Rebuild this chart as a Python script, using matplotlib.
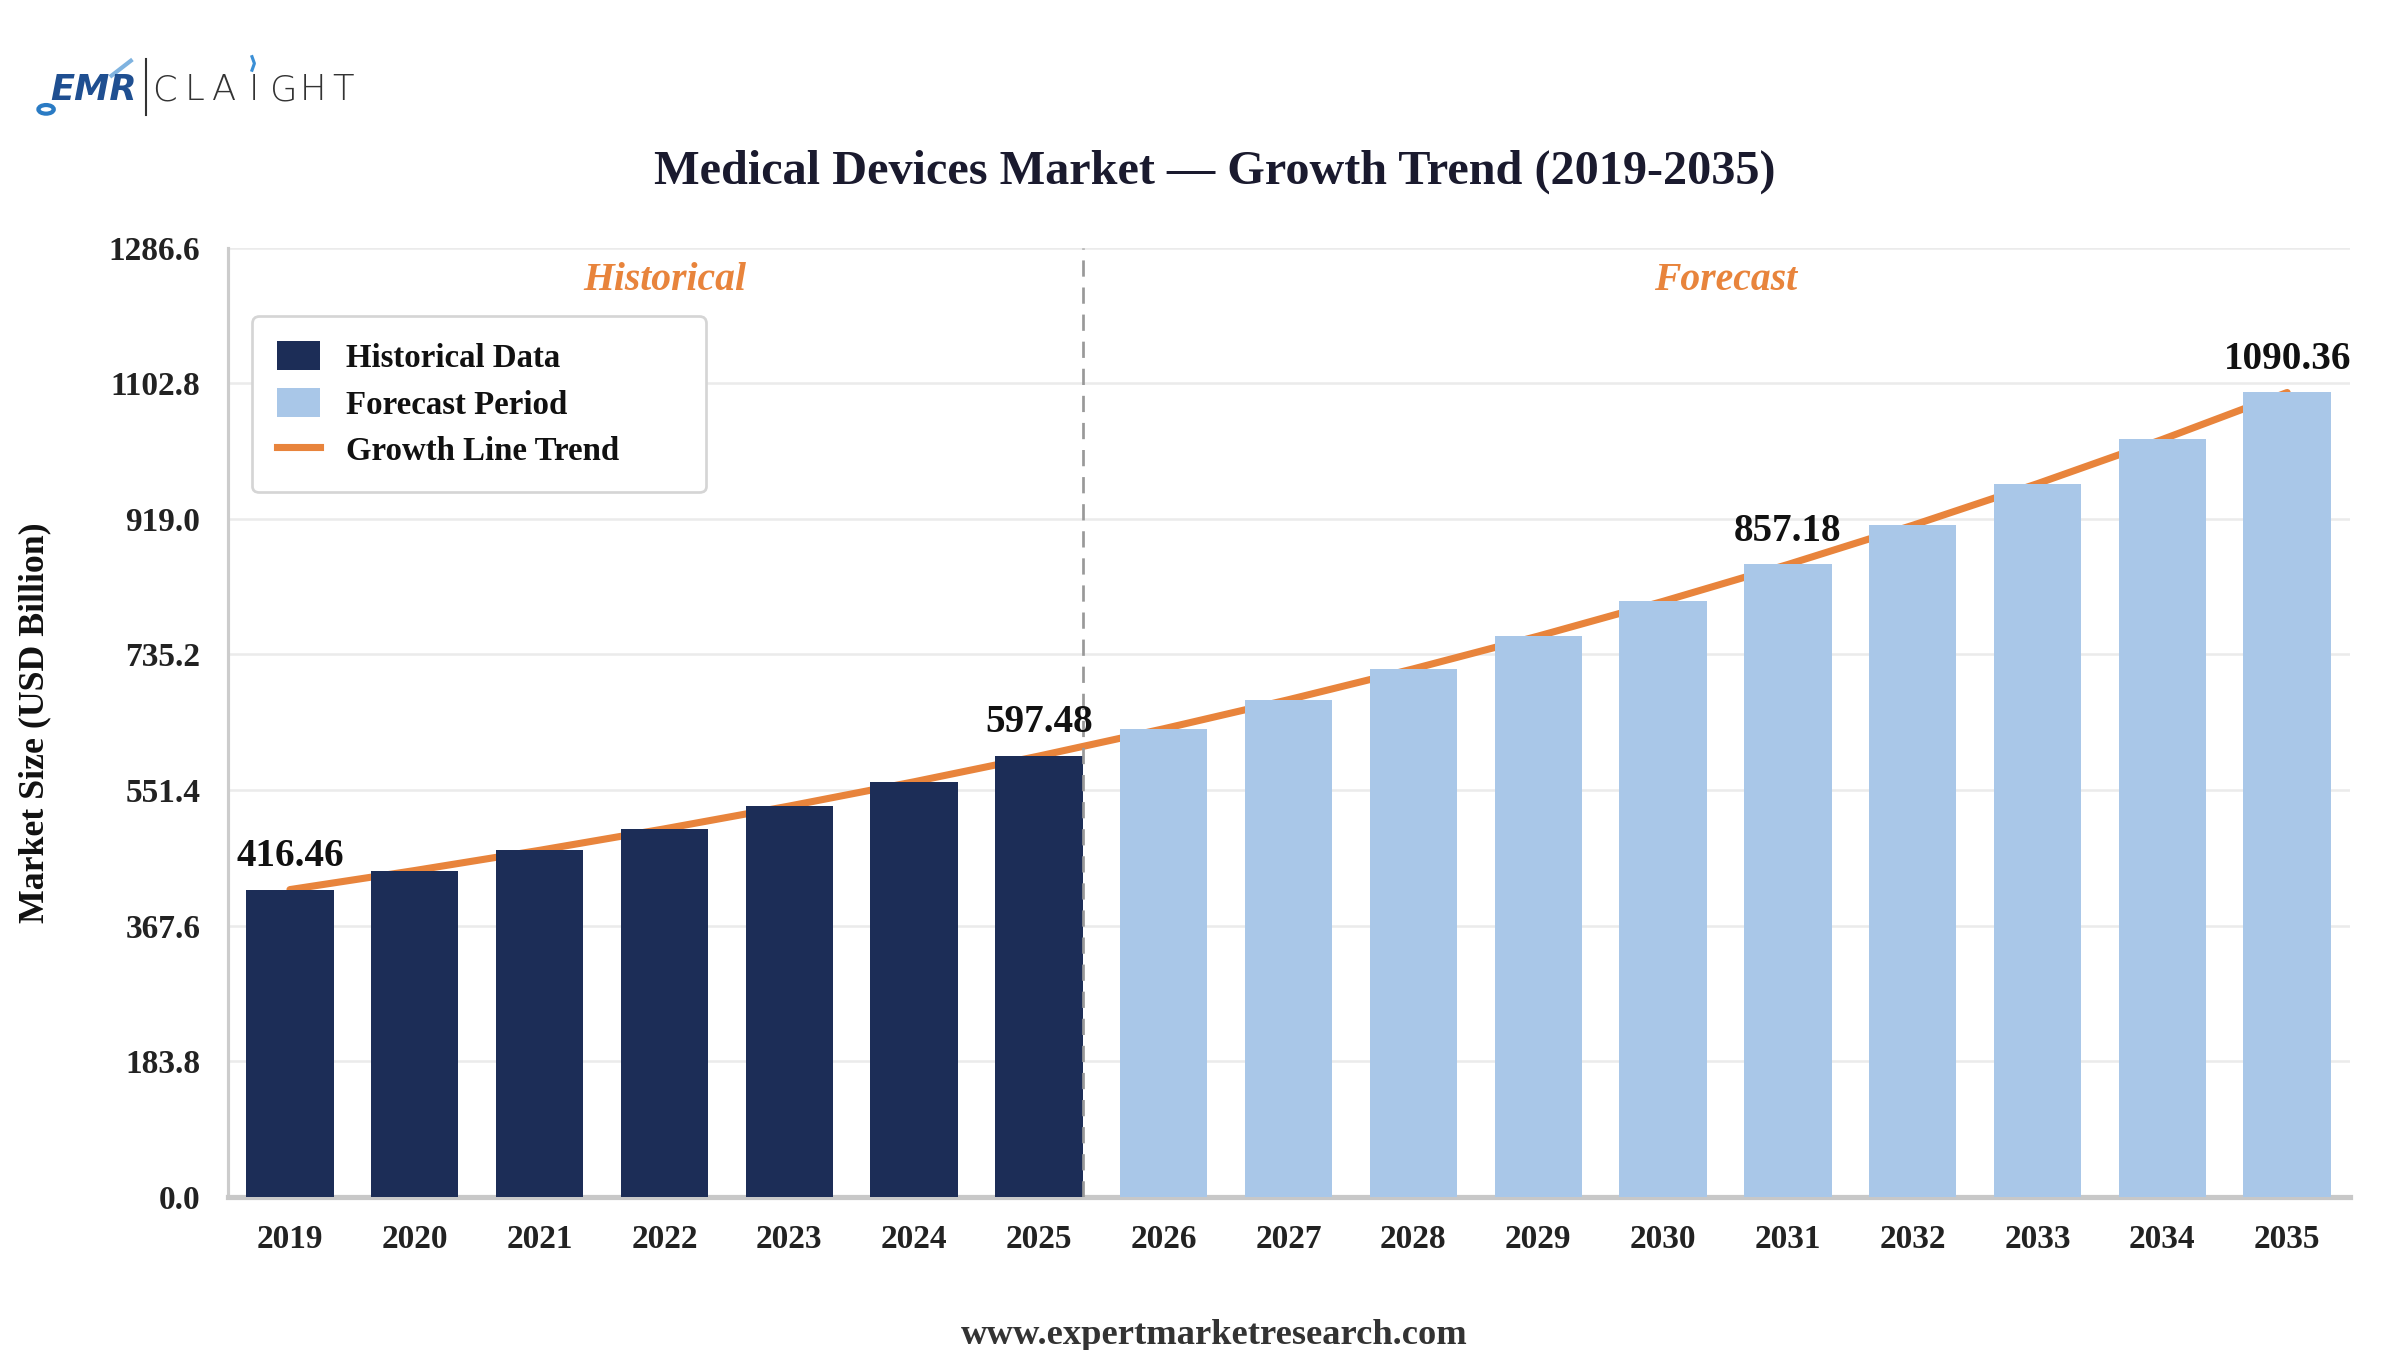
import matplotlib
matplotlib.use('Agg')
import matplotlib.pyplot as plt
from matplotlib.patches import Patch, Circle
from matplotlib.lines import Line2D

# data (USD billion)
years = ['2019', '2020', '2021', '2022', '2023', '2024', '2025', '2026', '2027',
         '2028', '2029', '2030', '2031', '2032', '2033', '2034', '2035']
hist_values = [416.46, 442.3, 469.7, 498.8, 529.7, 562.6, 597.48]
fcst_values = [634.5, 673.9, 715.7, 760.1, 807.2, 857.18, 910.3, 966.8, 1026.7, 1090.36]
labelled_years = ['2019', '2025', '2031', '2035']
y_ticks = [0.0, 183.8, 367.6, 551.4, 735.2, 919.0, 1102.8, 1286.6]

navy = '#1c2d57'
light_blue = '#a9c7e8'
orange = '#e8843c'

plt.rcParams['font.family'] = ['Liberation Serif', 'DejaVu Serif']
plt.rcParams['font.weight'] = 'bold'

fig = plt.figure(figsize=(16, 9), dpi=150)
fig.patch.set_facecolor('white')
ax = fig.add_axes([0.0948, 0.1135, 0.8842, 0.703])

all_values = hist_values + fcst_values
x = list(range(len(years)))
n_hist = len(hist_values)
bar_w = 0.7

ax.bar(x[:n_hist], hist_values, width=bar_w, color=navy, zorder=3)
ax.bar(x[n_hist:], fcst_values, width=bar_w, color=light_blue, zorder=3)
ax.plot(x, all_values, color=orange, linewidth=3.4, solid_capstyle='round', zorder=2)

# split between historical and forecast
split_x = n_hist - 1 + bar_w / 2
ax.axvline(split_x, color='#999999', linestyle=(0, (6, 4)), linewidth=1.3, zorder=4)

for yr in labelled_years:
    i = years.index(yr)
    ax.annotate(f'{all_values[i]:.2f}', (i, all_values[i]), xytext=(0, 7),
                textcoords='offset points', ha='center', va='bottom',
                fontsize=18.8, fontweight='bold', color='#111111', zorder=5)

ax.text(3.0, 1242, 'Historical', ha='center', va='center',
        fontsize=19, fontstyle='italic', fontweight='bold', color=orange)
ax.text(11.5, 1242, 'Forecast', ha='center', va='center',
        fontsize=19, fontstyle='italic', fontweight='bold', color=orange)

ax.set_xlim(-0.5, len(years) - 0.5)
ax.set_ylim(0, y_ticks[-1])
ax.set_yticks(y_ticks)
ax.set_yticklabels([f'{t:.1f}' for t in y_ticks])
ax.set_xticks(x)
ax.set_xticklabels(years)
ax.tick_params(axis='both', length=0, labelsize=16, colors='#222222')
ax.tick_params(axis='x', pad=13)
ax.tick_params(axis='y', pad=13)
ax.grid(axis='y', color='#ebebeb', linewidth=1.2, zorder=0)
ax.set_axisbelow(True)
for s in ['top', 'right']:
    ax.spines[s].set_visible(False)
ax.spines['left'].set_color('#cccccc')
ax.spines['left'].set_linewidth(1.5)
ax.spines['bottom'].set_color('#c8c8c8')
ax.spines['bottom'].set_linewidth(2.5)

ax.set_ylabel('Market Size (USD Billion)', fontsize=17.2, fontweight='bold',
              color='#111111')
ax.yaxis.set_label_coords(-0.083, 0.5)

handles = [Patch(facecolor=navy, label='Historical Data'),
           Patch(facecolor=light_blue, label='Forecast Period'),
           Line2D([0], [0], color=orange, linewidth=3.4, label='Growth Line Trend')]
leg = ax.legend(handles=handles, loc='upper left', bbox_to_anchor=(0.0117, 0.0, 0.2137, 0.928),
                mode='expand', borderaxespad=0, fontsize=15.8, handlelength=1.3,
                handleheight=1.0, handletextpad=0.8, labelspacing=0.42, borderpad=0.75,
                frameon=True, fancybox=True, edgecolor='#d5d5d5', framealpha=1)
leg.get_frame().set_linewidth(1.3)
for t in leg.get_texts():
    t.set_color('#111111')

fig.text(0.506, 0.873, 'Medical Devices Market \u2014 Growth Trend (2019-2035)',
         ha='center', va='center', fontsize=23.2, fontweight='bold', color='#1a1a2e')
fig.text(0.506, 0.011, 'www.expertmarketresearch.com', ha='center', va='center',
         fontsize=17.5, fontweight='bold', color='#333333')

# logo
fig.text(0.021, 0.933, 'EMR', ha='left', va='center', fontsize=17,
         fontweight='bold', family='DejaVu Sans', color='#1f4f91', fontstyle='italic')
fig.add_artist(Circle((0.0192, 0.919), 0.0032, transform=fig.transFigure,
                      facecolor='none', edgecolor='#2a7bc4', linewidth=2.0))
fig.add_artist(Line2D([0.0465, 0.0545], [0.944, 0.955], transform=fig.transFigure,
                      color='#7fb3e0', linewidth=2.0))
fig.add_artist(Line2D([0.0607, 0.0607], [0.915, 0.956], transform=fig.transFigure,
                      color='#333333', linewidth=1.0))
for k, ch in enumerate('CLAIGHT'):
    fig.text(0.0686 + k * 0.01237, 0.933, ch, ha='center', va='center', fontsize=17,
             fontweight='light', family='DejaVu Sans', color='#333333')
fig.add_artist(Line2D([0.1050, 0.1060, 0.1050], [0.958, 0.953, 0.948], transform=fig.transFigure,
                      color='#3a8fd6', linewidth=1.5))

fig.savefig('out.png', dpi=150, facecolor='white')
